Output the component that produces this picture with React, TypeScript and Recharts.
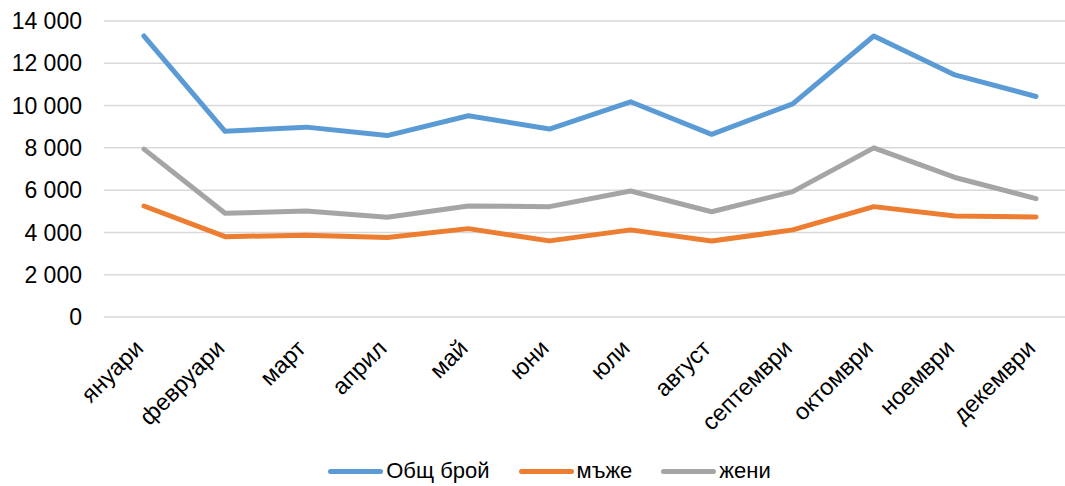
import React from 'react';
import { LineChart, Line, XAxis, YAxis, CartesianGrid, Legend } from 'recharts';

const months = [
  'януари', 'февруари', 'март', 'април', 'май', 'юни',
  'юли', 'август', 'септември', 'октомври', 'ноември', 'декември',
];
const total = [13290, 8780, 8980, 8580, 9520, 8890, 10180, 8640, 10080, 13290, 11450, 10430];
const men = [5250, 3800, 3870, 3760, 4180, 3600, 4120, 3590, 4120, 5220, 4780, 4730];
const women = [7940, 4910, 5010, 4720, 5250, 5220, 5960, 4980, 5930, 8000, 6600, 5600];
const yTicks = [0, 2000, 4000, 6000, 8000, 10000, 12000, 14000];

const series = [
  { key: 'total', name: 'Общ брой', color: '#5B9BD5' },
  { key: 'men', name: 'мъже', color: '#ED7D31' },
  { key: 'women', name: 'жени', color: '#A5A5A5' },
];

const data = months.map((m, i) => ({ month: m, total: total[i], men: men[i], women: women[i] }));

const FONT = '"Liberation Sans", Arial, sans-serif';

const fmt = (v: number) => String(v).replace(/\B(?=(\d{3})+(?!\d))/g, ' ');

const MonthTick = ({ x, y, payload }: any) => (
  <g transform={`translate(${x - 5},${y + 25})`}>
    <text
      transform="rotate(-45)"
      textAnchor="end"
      dy="0.35em"
      fontSize={23.5}
      fontFamily={FONT}
      fill="#000"
    >
      {payload.value}
    </text>
  </g>
);

const LegendContent = () => (
  <div
    style={{
      display: 'flex',
      justifyContent: 'center',
      alignItems: 'center',
      gap: 29,
      fontFamily: FONT,
      fontSize: 22,
      color: '#000',
      height: 30,
      paddingLeft: 22,
    }}
  >
    {series.map((s) => (
      <div key={s.key} style={{ display: 'flex', alignItems: 'center' }}>
        <span
          style={{
            display: 'inline-block',
            width: 55,
            height: 5,
            borderRadius: 3,
            background: s.color,
            marginRight: 3,
          }}
        />
        <span>{s.name}</span>
      </div>
    ))}
  </div>
);

export default function App() {
  return (
    <div
      style={{
        position: 'absolute',
        top: 0,
        left: 0,
        width: 1065,
        height: 486,
        overflow: 'hidden',
        background: '#fff',
      }}
    >
      <LineChart
        width={1080}
        height={486}
        data={data}
        margin={{ top: 21, right: 3, bottom: 0, left: 0 }}
      >
        <CartesianGrid vertical={false} stroke="#D9D9D9" strokeWidth={1.5} />
        <XAxis
          dataKey="month"
          axisLine={false}
          tickLine={false}
          tickSize={0}
          height={139}
          interval={0}
          padding={{ left: 40, right: 41 }}
          tick={<MonthTick />}
        />
        <YAxis
          domain={[0, 14000]}
          ticks={yTicks}
          axisLine={false}
          tickLine={false}
          tickSize={0}
          tickMargin={22}
          width={104}
          tickFormatter={fmt}
          tick={{ fontSize: 23, fontFamily: FONT, fill: '#000' }}
        />
        {series.map((s) => (
          <Line
            key={s.key}
            dataKey={s.key}
            name={s.name}
            stroke={s.color}
            strokeWidth={5}
            strokeLinecap="round"
            strokeLinejoin="round"
            dot={false}
            activeDot={false}
            isAnimationActive={false}
          />
        ))}
        <Legend verticalAlign="bottom" height={30} content={<LegendContent />} />
      </LineChart>
    </div>
  );
}
